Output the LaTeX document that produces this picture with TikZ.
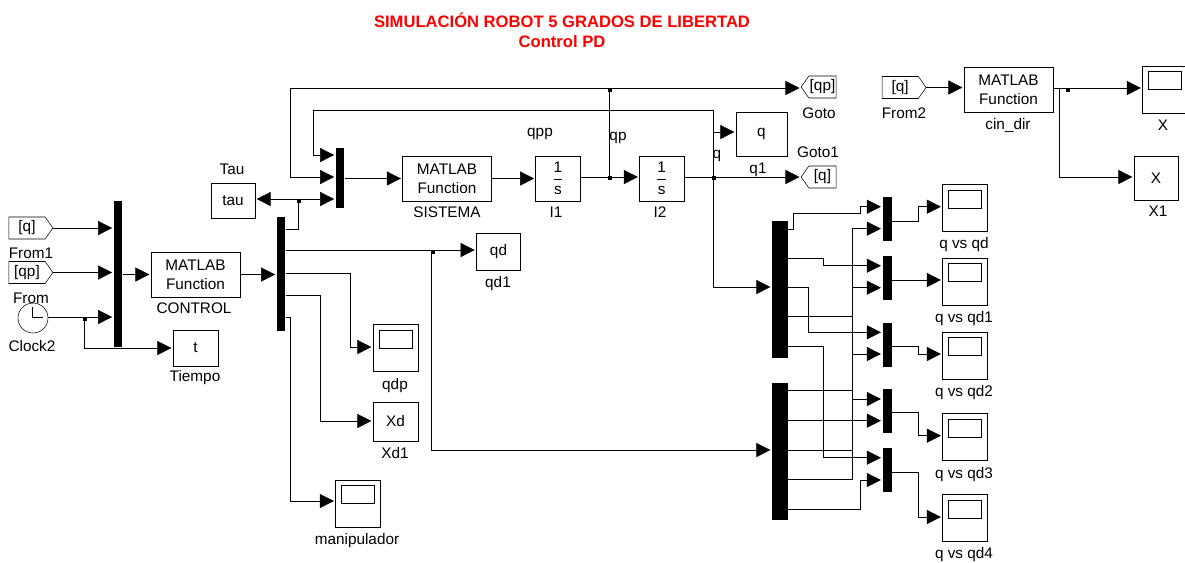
\documentclass[tikz,border=0pt]{standalone}
\usepackage{amsmath}
\usepackage{fontspec}
\setmainfont{Liberation Sans}
\usetikzlibrary{arrows.meta, shapes.symbols}
\newcommand{\blockfont}{\fontsize{11.5}{13}\selectfont}
\tikzset{
  ->,
  >={Triangle[length=10.5pt, width=10.5pt]},
  shorten >=1pt,
  line width=0.9pt,
  every node/.style={font=\blockfont, inner sep=0pt},
  size/.style 2 args={minimum width=#1*0.75pt, minimum height=#2*0.75pt},
  block/.style={draw, rectangle},
  bar/.style={fill=black, rectangle},
  scopebox/.style={draw, rectangle, size={45}{47},
    path picture={\draw[-, shorten >=0pt] (path picture bounding box.center) ++(-16.5,-18) rectangle ++(33,18);}},
  fromtag/.style={draw, signal, signal to=east, signal pointer angle=110},
  gototag/.style={draw, signal, signal to=west, signal pointer angle=110},
  junction/.style={fill=black, rectangle, size={4}{4}},
}

\begin{document}
\begin{tikzpicture}[x=0.75pt, y=-0.75pt]
  \useasboundingbox (0,0) rectangle (1185,562);

  % title
  \node[text=red, font=\fontsize{12.45}{14}\selectfont\bfseries] (title1) at (562,20) {SIMULACIÓN ROBOT 5 GRADOS DE LIBERTAD};
  \node[text=red, font=\fontsize{12.45}{14}\selectfont\bfseries] (title2) at (562,42) {Control PD};

  % sources and control
  \node[fromtag, size={44}{22}] (from1) at (27,228) {[q]};
  \node[fromtag, size={44}{22}] (from0) at (27,272.5) {[qp]};
  \node[draw, circle, size={30}{30}] (clk2) at (33,318) {};
  \draw[-, shorten >=0pt] (32,307) -- (32,317) -- (43,317);
  \node[bar, size={8.5}{146}] (mux1) at (118,274) {};
  \node[block, size={89}{45}, align=center] (ctrl) at (195.5,274.5) {MATLAB\\[1pt]Function};
  \node[block, size={45}{36}] (tiempo) at (195.5,348) {t};
  \node[bar, size={8.5}{113.5}] (mux2) at (281,274) {};
  \node[block, size={44}{35}] (tau) at (233,200.5) {tau};

  % plant
  \node[bar, size={8.5}{60}] (mux3) at (340,178) {};
  \node[block, size={89}{45}, align=center] (sist) at (447,178.5) {MATLAB\\[1pt]Function};
  \node[block, size={44.5}{45}] (i1) at (558,178.5) {$\dfrac{\text{1}}{\text{s}}$};
  \node[block, size={44.5}{45}] (i2) at (661.75,178.5) {$\dfrac{\text{1}}{\text{s}}$};
  \node[gototag, size={35}{22}] (goto0) at (822.5,87) {[qp]};
  \node[gototag, size={35}{22}] (goto1) at (822.5,177) {[q]};
  \node[block, size={51}{44}] (q1) at (761.5,134) {q};
  \node[block, size={44.5}{37}] (qd1) at (498.5,251.5) {qd};
  \node[scopebox] (qdp) at (395.5,348) {};
  \node[block, size={45}{39}] (xd1) at (395.5,421.5) {Xd};
  \node[scopebox] (manip) at (358,503.5) {};

  % direct kinematics
  \node[fromtag, size={44}{22}] (from2) at (900.2,87.5) {[q]};
  \node[block, size={89}{45}, align=center] (cin) at (1008.5,89.5) {MATLAB\\[1pt]Function};
  \node[scopebox] (xs) at (1165,89.5) {};
  \node[block, size={44}{44}] (x1) at (1156,178) {X};

  % comparison
  \node[bar, size={16}{137}] (mux4) at (780,289) {};
  \node[bar, size={16}{137}] (mux5) at (780,451.5) {};
  \node[bar, size={9}{44}] (m1) at (887,219) {};
  \node[bar, size={9}{44}] (m2) at (887,278) {};
  \node[bar, size={9}{44}] (m3) at (887,344.6) {};
  \node[bar, size={9}{44}] (m4) at (887,411) {};
  \node[bar, size={9}{44}] (m5) at (887,470.3) {};
  \node[scopebox] (s1) at (965,208) {};
  \node[scopebox] (s2) at (965,281.7) {};
  \node[scopebox] (s3) at (965,355.7) {};
  \node[scopebox] (s4) at (965,437) {};
  \node[scopebox] (s5) at (965,518) {};

  % junctions
  \coordinate (jclk) at (84,317);
  \coordinate (jtau) at (298,199);
  \coordinate (jqd) at (431,250);
  \coordinate (jqp) at (609,177);
  \coordinate (jqpt) at (609,88);
  \coordinate (jq) at (713,177);
  \coordinate (jcin) at (1059,88);
  \node[junction] (dclk) at (85,319) {};
  \node[junction] (dtau) at (299,201) {};
  \node[junction] (dqd) at (432.5,252) {};
  \node[junction] (dqp) at (610,178) {};
  \node[junction] (dqpt) at (610,90) {};
  \node[junction] (dq) at (714,178) {};
  \node[junction] (dcin) at (1068,90) {};

  % labels
  \node (lfrom1) at (31,253) {From1};
  \node (lfrom0) at (31,298) {From};
  \node (lclk2) at (32,346) {Clock2};
  \node (lctrl) at (194,308) {CONTROL};
  \node (ltiempo) at (195,378) {Tiempo};
  \node (ltau) at (232,169) {Tau};
  \node (lqdp) at (395,386) {qdp};
  \node (lxd1) at (395,453) {Xd1};
  \node (lmanip) at (357,541) {manipulador};
  \node (lsist) at (447,212) {SISTEMA};
  \node (li1) at (556,212) {I1};
  \node (li2) at (660,212) {I2};
  \node (lqpp) at (540,134) {qpp};
  \node (lqp) at (618,138) {qp};
  \node (lq) at (717,156) {q};
  \node (lq1) at (758,170) {q1};
  \node (lgoto0) at (819,113) {Goto};
  \node (lgoto1) at (818,152) {Goto1};
  \node (lqd1) at (498,284) {qd1};
  \node (lfrom2) at (904,113) {From2};
  \node (lcin) at (1008,125) {cin\_dir};
  \node (lxs) at (1163,125) {X};
  \node (lx1) at (1158,211) {X1};
  \node (ls1) at (964,245) {q vs qd};
  \node (ls2) at (964,319) {q vs qd1};
  \node (ls3) at (964,393) {q vs qd2};
  \node (ls4) at (964,475) {q vs qd3};
  \node (ls5) at (964,555) {q vs qd4};

  % wires, control side
  \draw (from1.east) -- (mux1.west |- from1.east);
  \draw (from0.east) -- (mux1.west |- from0.east);
  \draw (clk2.east |- jclk) -- (mux1.west |- jclk);
  \draw (jclk) |- (tiempo.west);
  \draw (mux1.east |- ctrl.west) -- (ctrl.west);
  \draw (ctrl.east) -- (mux2.west |- ctrl.east);
  \draw[-, shorten >=0pt] (mux2.east |- 0,229) -| (jtau);
  \draw (jtau) -- (tau.east |- jtau);
  \draw (jtau) -- (mux3.west |- jtau);
  \draw (mux2.east |- jqd) -- (qd1.west |- jqd);
  \draw (jqd) |- (mux5.west |- 0,450);
  \draw (mux2.east |- 0,273) -| (350,347) -- (qdp.west |- 0,347);
  \draw (mux2.east |- 0,295) -| (320,421) -- (xd1.west |- 0,421);
  \draw (mux2.east |- 0,317) -| (290,501) -- (manip.west |- 0,501);

  % wires, plant
  \draw (mux3.east |- sist.west) -- (sist.west);
  \draw (sist.east) -- (i1.west);
  \draw (i1.east |- jqp) -- (i2.west |- jqp);
  \draw[-, shorten >=0pt] (jqp) -- (jqpt);
  \draw (jqpt) -- (goto0.west |- jqpt);
  \draw (jqpt) -- (290,88) |- (mux3.west |- 0,177);
  \draw (i2.east |- jq) -- (goto1.west);
  \draw (jq) -- (713,110) -- (313,110) |- (mux3.west |- 0,155);
  \draw (713,132) -- (q1.west |- 0,132);
  \draw (jq) |- (mux4.west |- 0,287);

  % wires, direct kinematics
  \draw (from2.east) -- (cin.west |- from2.east);
  \draw (cin.east |- jcin) -- (xs.west |- jcin);
  \draw (jcin) |- (x1.west |- 0,177);

  % wires, comparison
  \draw (mux4.east |- 0,229) -- (793,229) -- (793,213) -- (860,213) -- (860,206.7) -- (m1.west |- 0,206.7);
  \draw (mux4.east |- 0,258) -- (823,258) -- (823,265.7) -- (m2.west |- 0,265.7);
  \draw (mux4.east |- 0,287.3) -- (808,287.3) -- (808,332.3) -- (m3.west |- 0,332.3);
  \draw (mux4.east |- 0,316.7) -- (852,316.7) -- (852,399) -- (m4.west |- 0,399);
  \draw (mux4.east |- 0,346) -- (823,346) -- (823,457.7) -- (m5.west |- 0,457.7);
  \draw (mux5.east |- 0,390.7) -- (852,390.7) -- (852,228.7) -- (m1.west |- 0,228.7);
  \draw (mux5.east |- 0,420.7) -- (m4.west |- 0,420.7);
  \draw (mux5.east |- 0,450) -- (852,450) -- (852,287.7) -- (m2.west |- 0,287.7);
  \draw (mux5.east |- 0,479.3) -- (852,479.3) -- (852,354) -- (m3.west |- 0,354);
  \draw (mux5.east |- 0,509.3) -- (860,509.3) -- (860,480) -- (m5.west |- 0,480);
  \draw (m1.east |- 0,221) -- (918,221) -- (918,206.7) -- (s1.west |- 0,206.7);
  \draw (m2.east |- 0,280) -- (s2.west |- 0,280);
  \draw (m3.east |- 0,346.7) -- (918,346.7) -- (918,354) -- (s3.west |- 0,354);
  \draw (m4.east |- 0,412.7) -- (918,412.7) -- (918,435.7) -- (s4.west |- 0,435.7);
  \draw (m5.east |- 0,472.7) -- (918,472.7) -- (918,517) -- (s5.west |- 0,517);
\end{tikzpicture}
\end{document}
